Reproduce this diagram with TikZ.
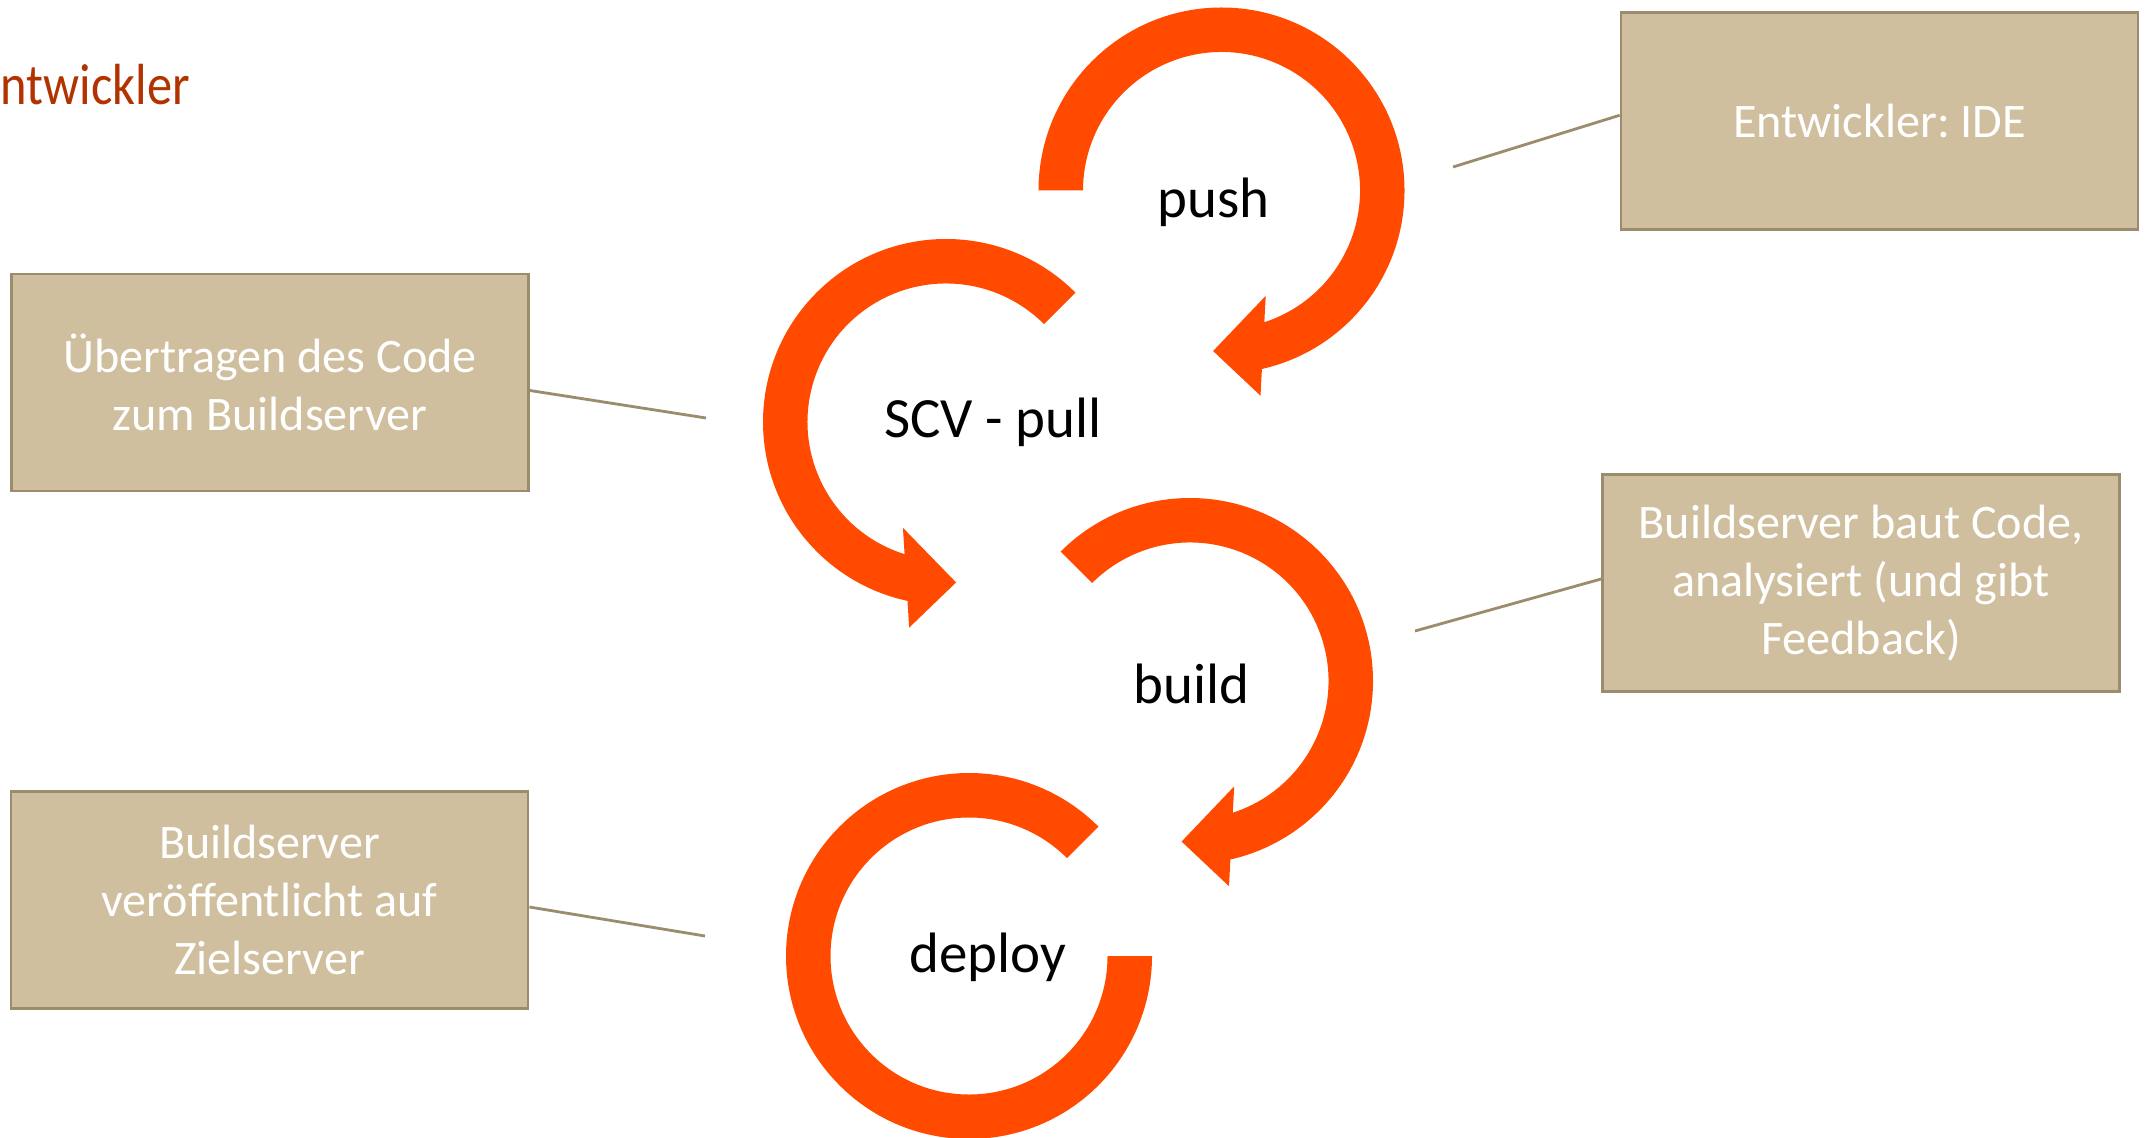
\documentclass[tikz,border=0pt]{standalone}
\usepackage{fontspec}
\setmainfont{Carlito}
\newfontfamily\titlefont[FakeStretch=0.87]{Carlito}
\frenchspacing
\definecolor{cycleorange}{HTML}{FF4A00}
\definecolor{boxfill}{HTML}{D0BF9E}
\definecolor{boxline}{HTML}{9B8C6E}
\definecolor{titlered}{HTML}{B23300}
\tikzset{
    infobox/.style={draw=boxline, line width=0.8pt, fill=boxfill, minimum width=5.17cm, minimum height=2.17cm, inner sep=0pt, text=white, align=center, font=\fontsize{13.7}{16.4}\selectfont},
    stagelabel/.style={font=\fontsize{16.2}{19}\selectfont},
    pointer/.style={draw=boxline, line width=0.8pt},
    cyclearrow/.style={fill=cycleorange}
}
\begin{document}
\begin{tikzpicture}
        \useasboundingbox (0,0) rectangle (21.46,11.37);

        \node[anchor=base west, inner sep=0pt, text=titlered, font=\titlefont\fontsize{16.5}{20}\selectfont] (title) at (0,10.32) {ntwickler};

        \coordinate (push) at (12.215,9.465);
        \coordinate (pull) at (9.46,7.15);
        \coordinate (build) at (11.90,4.56);
        \coordinate (deploy) at (9.69,1.81);

        \begin{scope}[shift={(push)}]
            \fill[cyclearrow] (180:1.83) arc[start angle=180, end angle=-77.25, radius=1.83] -- (-79.24:2.089) -- (-93:1.6075) -- (-67.24:1.1425) -- (-72:1.385) arc[start angle=-72, end angle=180, radius=1.385] -- cycle;
        \end{scope}
        \begin{scope}[shift={(pull)}]
            \fill[cyclearrow] (45:1.83) arc[start angle=45, end angle=257.85, radius=1.83] -- (259.84:2.089) -- (273.6:1.6075) -- (247.84:1.1425) -- (252.6:1.385) arc[start angle=252.6, end angle=45, radius=1.385] -- cycle;
        \end{scope}
        \begin{scope}[shift={(build)}]
            \fill[cyclearrow] (135:1.83) arc[start angle=135, end angle=-77.25, radius=1.83] -- (-79.24:2.089) -- (-93:1.6075) -- (-67.24:1.1425) -- (-72:1.385) arc[start angle=-72, end angle=135, radius=1.385] -- cycle;
        \end{scope}
        \begin{scope}[shift={(deploy)}]
            \fill[cyclearrow] (45:1.83) arc[start angle=45, end angle=360, radius=1.83] -- (0:1.385) arc[start angle=360, end angle=45, radius=1.385] -- cycle;
        \end{scope}

        \node[stagelabel] (pushlbl) at (12.135,9.35) {push};
        \node[stagelabel] (pulllbl) at (9.93,7.145) {SCV - pull};
        \node[stagelabel] (buildlbl) at (11.915,4.53) {build};
        \node[stagelabel] (deploylbl) at (9.875,1.80) {deploy};

        \node[infobox] (ide) at (18.795,10.157) {Entwickler: IDE};
        \node[infobox] (transfer) at (2.70,7.545) {Übertragen des Code\\zum Buildserver};
        \node[infobox] (analyse) at (18.61,5.54) {Buildserver baut Code,\\analysiert (und gibt\\Feedback)};
        \node[infobox] (publish) at (2.695,2.37) {Buildserver\\veröffentlicht auf\\Zielserver};

        \coordinate (idetip) at (14.53,9.70);
        \coordinate (transfertip) at (7.06,7.19);
        \coordinate (analysetip) at (14.15,5.06);
        \coordinate (publishtip) at (7.05,2.01);

        \draw[pointer] ([yshift=0.06cm]ide.west) -- (idetip);
        \draw[pointer] ([yshift=-0.08cm]transfer.east) -- (transfertip);
        \draw[pointer] ([yshift=0.04cm]analyse.west) -- (analysetip);
        \draw[pointer] ([yshift=-0.07cm]publish.east) -- (publishtip);
    \end{tikzpicture}
\end{document}
